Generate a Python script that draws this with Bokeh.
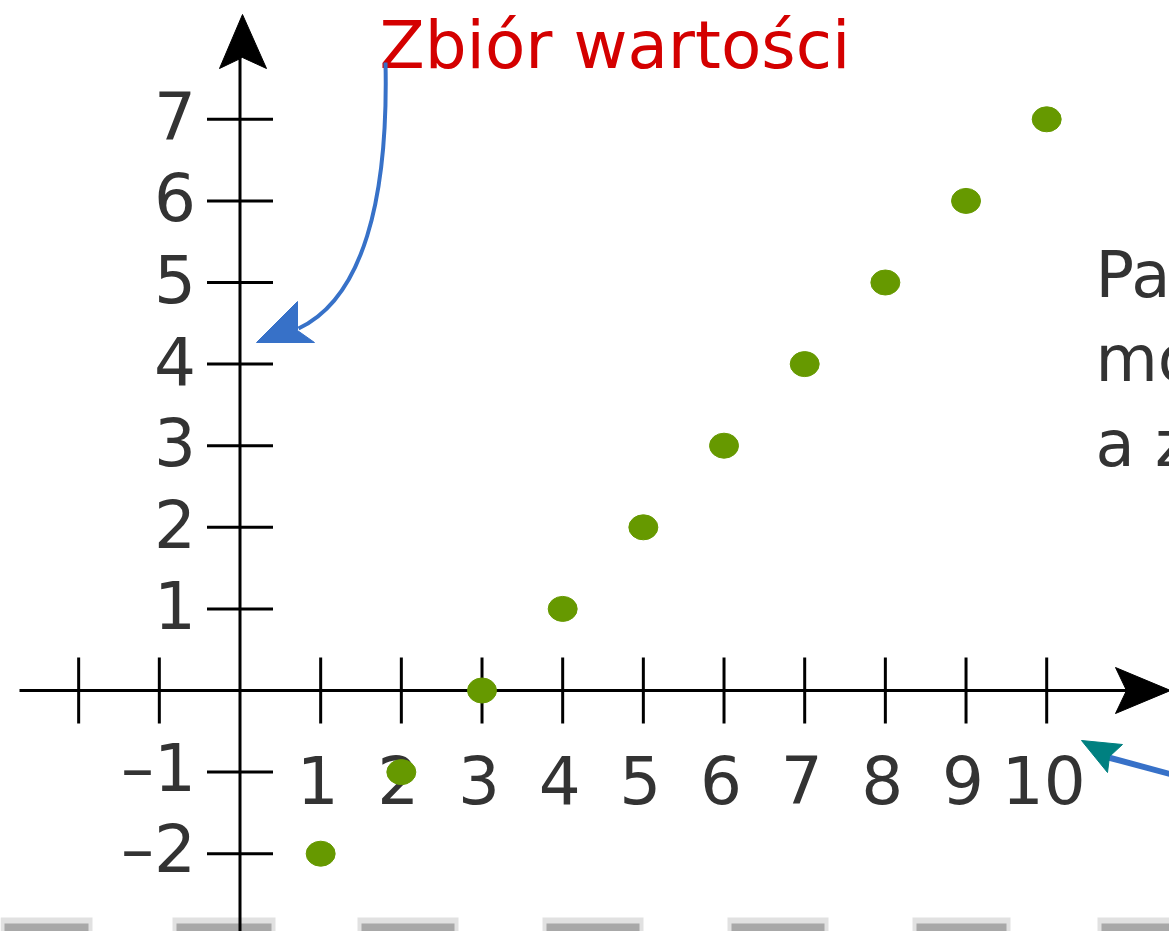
from bokeh.plotting import figure
from bokeh.models import Range1d
from bokeh.core.properties import value
from bokeh.embed import file_html
from bokeh.resources import INLINE

# ---- data ----
x_vals = [1, 2, 3, 4, 5, 6, 7, 8, 9, 10]
y_vals = [-2, -1, 0, 1, 2, 3, 4, 5, 6, 7]
x_ticks = [-2, -1, 1, 2, 3, 4, 5, 6, 7, 8, 9, 10]
x_label_vals = [1, 2, 3, 4, 5, 6, 7, 8, 9, 10]
x_labels = ["1", "2", "3", "4", "5", "6", "7", "8", "9", "10"]
y_ticks = [-2, -1, 1, 2, 3, 4, 5, 6, 7]
y_labels = ["–2", "–1", "1", "2", "3", "4", "5", "6", "7"]
title_text = "Zbiór wartości"
side_text = ["Pary uporządkowane", "mogą być", "a zbiór"]

# ---- pixel <-> data helpers (layout only) ----
X0, SX = 239.5, 80.67
Y0, SY = 690.0, 81.6
W, H = 1169, 931
TXT = 24  # vertical correction for text baseline rendering
def dx(X): return (X - X0) / SX
def dy(Y): return (Y0 - Y) / SY

FONT = value("DejaVu Sans")

p = figure(width=W, height=H, output_backend="svg", toolbar_location=None,
           x_range=Range1d(dx(0), dx(W)), y_range=Range1d(dy(H), dy(0)),
           x_axis_location=None, y_axis_location=None, min_border=0,
           background_fill_color="white", border_fill_color="white")
p.grid.visible = False
p.outline_line_color = None

# grey blurred fragments at the bottom
blob_l = [0, 172, 357, 542, 727, 912, 1097]
blob_r = [92, 275, 458, 643, 828, 1010, 1175]
p.quad(left=[dx(v) for v in blob_l], right=[dx(v) for v in blob_r],
       bottom=dy(940), top=dy(917), fill_color="#9a9a9a", fill_alpha=0.3, line_color=None)
p.quad(left=[dx(v + 4) for v in blob_l], right=[dx(v - 4) for v in blob_r],
       bottom=dy(940), top=dy(923), fill_color="#707070", fill_alpha=0.5, line_color=None)

# axes lines
p.segment(x0=[dx(19)], y0=[0], x1=[dx(1127)], y1=[0], line_color="black", line_width=3)
p.segment(x0=[0], y0=[dy(940)], x1=[0], y1=[dy(58)], line_color="black", line_width=3)

# axis arrowheads
p.patch(x=[dx(1170), dx(1115), dx(1126), dx(1115)],
        y=[dy(690), dy(667), dy(690), dy(713)], fill_color="black", line_color="black", line_width=1)
p.patch(x=[dx(242), dx(219), dx(242), dx(266)],
        y=[dy(14), dy(68), dy(57), dy(68)], fill_color="black", line_color="black", line_width=1)

# ticks
th = 33
p.segment(x0=x_ticks, y0=[-th / SY] * len(x_ticks), x1=x_ticks, y1=[th / SY] * len(x_ticks),
          line_color="black", line_width=3)
p.segment(x0=[-th / SX] * len(y_ticks), y0=y_ticks, x1=[th / SX] * len(y_ticks), y1=y_ticks,
          line_color="black", line_width=3)

# tick labels
p.text(x=[0] * len(y_ticks), y=y_ticks, text=y_labels, text_font=FONT, text_font_size="66px",
       text_color="#333333", text_align="right", text_baseline="alphabetic",
       x_offset=-44, y_offset=20 - TXT)
p.text(x=x_label_vals, y=[0] * len(x_label_vals), text=x_labels, text_font=FONT,
       text_font_size="66px", text_color="#333333", text_align="center",
       text_baseline="alphabetic", x_offset=-3, y_offset=113 - TXT)

# data points
p.ellipse(x=x_vals, y=y_vals, width=29, height=25, width_units="screen", height_units="screen",
          fill_color="#669900", line_color="#669900", line_width=1)

# title text
p.text(x=[dx(379)], y=[dy(69 - TXT)], text=[title_text], text_font=FONT, text_font_size="66px",
       text_color="#d40000", text_align="left", text_baseline="alphabetic")

# side text (cut off at right)
p.text(x=[dx(1095)] * 3, y=[dy(298 - TXT), dy(382 - TXT), dy(467 - TXT)], text=side_text,
       text_font=FONT, text_font_size="64px", text_color="#333333", text_align="left",
       text_baseline="alphabetic")

# curved blue arrow
BLUE = "#3771c8"
p.bezier(x0=[dx(385)], y0=[dy(62)], x1=[dx(298)], y1=[dy(328)],
         cx0=[dx(388)], cy0=[dy(200)], cx1=[dx(362)], cy1=[dy(298)],
         line_color=BLUE, line_width=4)
p.patch(x=[dx(256), dx(297), dx(297), dx(314)], y=[dy(342), dy(301), dy(330), dy(342)],
        fill_color=BLUE, line_color=BLUE, line_width=1)

# bottom-right arrow
p.segment(x0=[dx(1175)], y0=[dy(775)], x1=[dx(1108)], y1=[dy(757)], line_color=BLUE, line_width=6)
p.patch(x=[dx(1081), dx(1122), dx(1109), dx(1107)], y=[dy(740), dy(744), dy(756), dy(772)],
        fill_color="#008080", line_color="#008080", line_width=1)

open("out.html", "w").write(file_html(p, INLINE))
